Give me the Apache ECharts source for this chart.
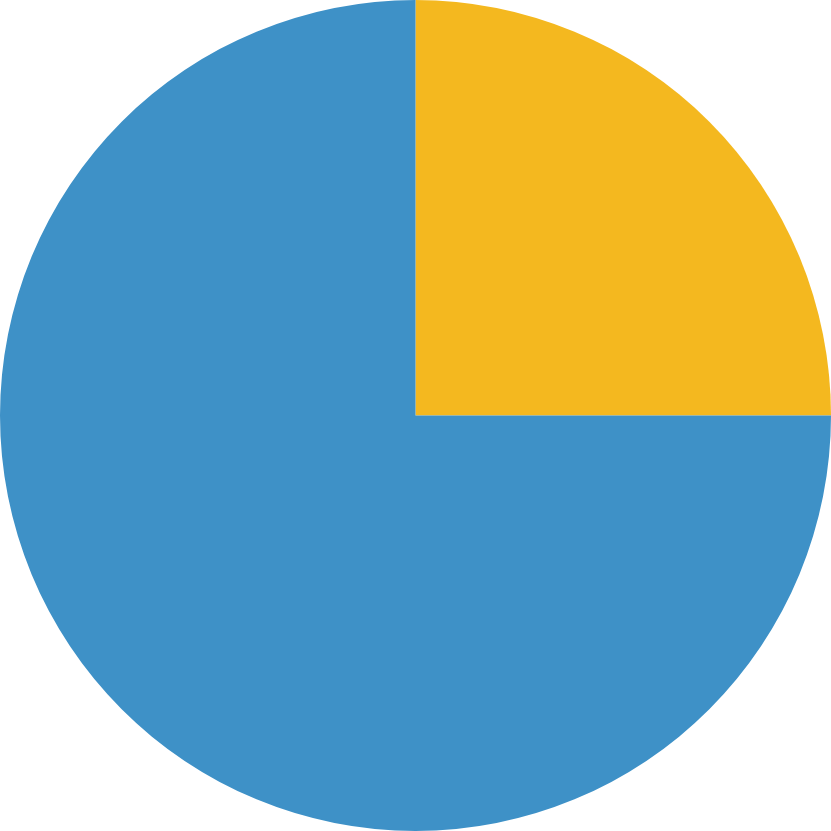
<!DOCTYPE html>
<html>
<head>
<meta charset="utf-8">
<script src="https://cdn.jsdelivr.net/npm/echarts@6/dist/echarts.min.js"></script>
<style>
html,body{margin:0;padding:0;background:#fff;}
#chart{width:831px;height:831px;}
</style>
</head>
<body>
<div id="chart"></div>
<script>
const categories = ['A', 'B'];
const values = [25, 75];
const colors = ['#F4B81F', '#3E91C7'];

const chart = echarts.init(document.getElementById('chart'), null, {renderer: 'canvas'});
chart.setOption({
  animation: false,
  backgroundColor: '#ffffff',
  series: [{
    type: 'pie',
    center: ['50%', '50%'],
    radius: ['0%', '100%'],
    startAngle: 90,
    clockwise: true,
    label: {show: false},
    labelLine: {show: false},
    emphasis: {disabled: true},
    itemStyle: {borderWidth: 0},
    data: categories.map((c, i) => ({name: c, value: values[i], itemStyle: {color: colors[i]}}))
  }]
});
</script>
</body>
</html>
